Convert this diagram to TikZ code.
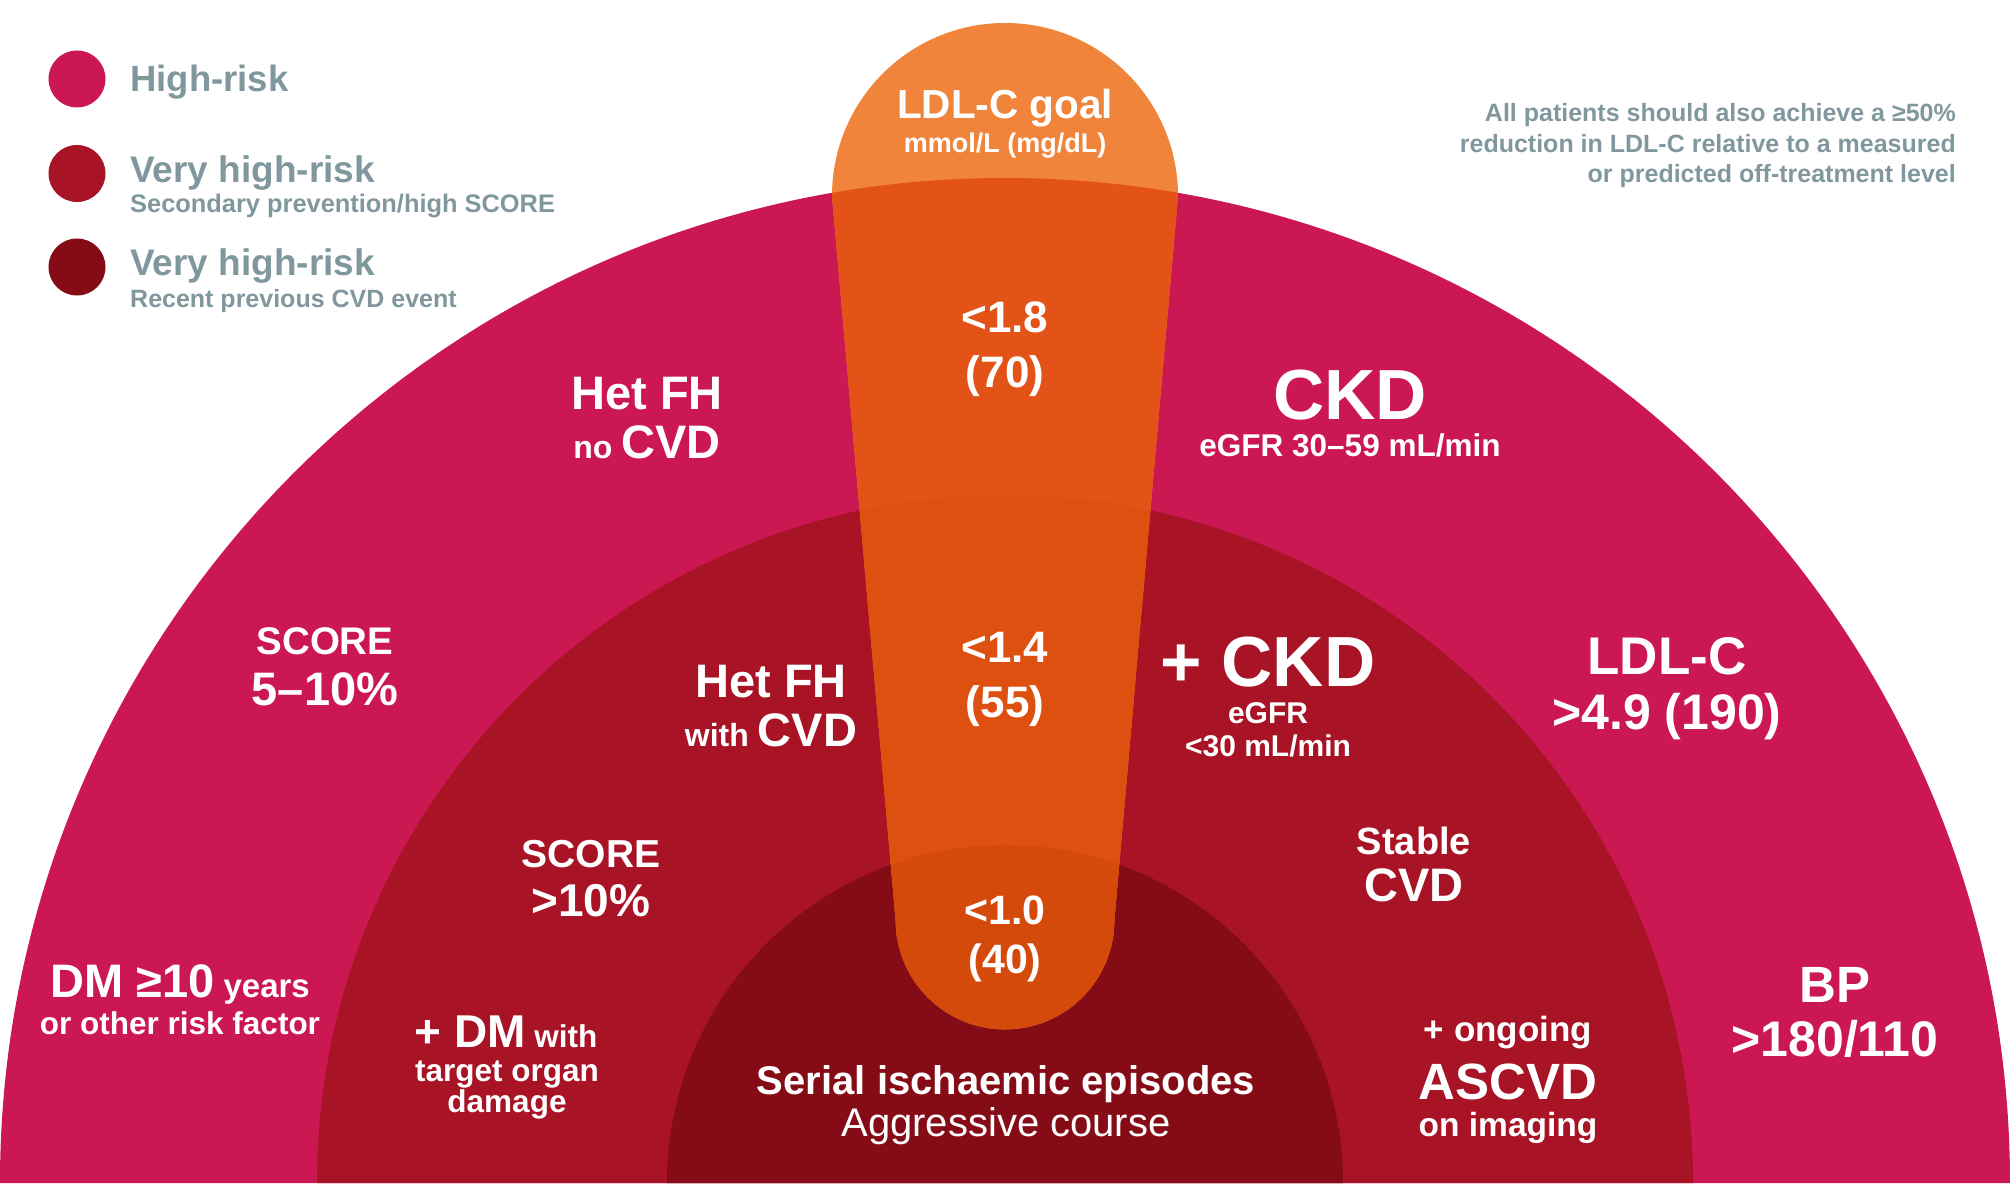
\documentclass[tikz,border=0pt]{standalone}
\usepackage{fontspec}
\setmainfont{Liberation Sans}
\usepackage{tikz}

\definecolor{highrisk}{HTML}{CC1852}
\definecolor{vhighrisk}{HTML}{A81326}
\definecolor{recentrisk}{HTML}{850C16}
\definecolor{goalcap}{HTML}{F0843A}
\definecolor{goalhigh}{HTML}{E35217}
\definecolor{goalvhigh}{HTML}{DD5010}
\definecolor{goalrecent}{HTML}{D44A0B}
\definecolor{notegray}{HTML}{80979D}

\newcommand{\fs}[1]{\fontsize{#1}{#1}\selectfont}
\newcommand{\goalpath}{(832,987) arc[start angle=180,end angle=0,radius=173] -- (1114.3,263) arc[start angle=0,end angle=-180,radius=109.3] -- cycle}

\tikzset{
  lbl/.style={text=white,inner sep=0pt,anchor=base,font=\bfseries\fs{#1}},
  leg/.style={text=notegray,inner sep=0pt,anchor=base west,font=\bfseries\fs{#1}},
  note/.style={text=notegray,inner sep=0pt,anchor=base east,font=\bfseries\fs{25}},
  dot/.style={fill=#1,draw=none}
}

\begin{document}
\begin{tikzpicture}[x=1pt,y=1pt]
\useasboundingbox (0,0) rectangle (2010,1183);
\clip (0,0) rectangle (2010,1183);
% risk rings
\fill[highrisk] (0,0) arc[start angle=180,end angle=0,radius=1005] -- cycle;
\fill[vhighrisk] (317,0) arc[start angle=180,end angle=0,radius=688] -- cycle;
\fill[recentrisk] (667,0) arc[start angle=180,end angle=0,radius=338] -- cycle;
% LDL-C goal column
\fill[goalcap] \goalpath;
\begin{scope}
\clip (0,0) arc[start angle=180,end angle=0,radius=1005] -- cycle;
\fill[goalhigh] \goalpath;
\end{scope}
\begin{scope}
\clip (317,0) arc[start angle=180,end angle=0,radius=688] -- cycle;
\fill[goalvhigh] \goalpath;
\end{scope}
\begin{scope}
\clip (667,0) arc[start angle=180,end angle=0,radius=338] -- cycle;
\fill[goalrecent] \goalpath;
\end{scope}
% legend
\fill[dot=highrisk] (77,1104) circle[radius=28.5];
\fill[dot=vhighrisk] (77,1009.5) circle[radius=28.5];
\fill[dot=recentrisk] (77,916) circle[radius=28.5];
\node[leg=36.5] (leghigh) at (130,1091) {High-risk};
\node[leg=37] (legvhigh) at (130,1000) {Very high-risk};
\node[leg=25.4] (legvhighsub) at (130,970) {Secondary prevention/high SCORE};
\node[leg=37] (legrecent) at (130,907) {Very high-risk};
\node[leg=25] (legrecentsub) at (130,875) {Recent previous CVD event};
% note
\node[note] (note1) at (1956,1061) {All patients should also achieve a ≥50\%};
\node[note] (note2) at (1956,1030) {reduction in LDL-C relative to a measured};
\node[note] (note3) at (1956,1000) {or predicted off-treatment level};
% goals
\node[lbl=40.5] (goal) at (1005,1064) {LDL-C goal};
\node[lbl=27] (goalunit) at (1005,1030) {mmol/L (mg/dL)};
\node[lbl=44] (goalhighA) at (1005,850) {<1.8};
\node[lbl=44] (goalhighB) at (1005,795) {(70)};
\node[lbl=44] (goalvhighA) at (1005,520) {<1.4};
\node[lbl=44] (goalvhighB) at (1005,465) {(55)};
\node[lbl=41] (goalrecentA) at (1005,258) {<1.0};
\node[lbl=41] (goalrecentB) at (1005,209) {(40)};
% high-risk ring
\node[lbl=47] (hetfh) at (647,773) {Het FH};
\node[lbl=47] (hetfhno) at (647,724) {{\fs{32}no }CVD};
\node[lbl=71] (ckd) at (1350,763) {CKD};
\node[lbl=31.5] (ckdegfr) at (1350,726) {eGFR 30–59 mL/min};
\node[lbl=38.5] (score) at (325,528) {SCORE};
\node[lbl=47] (scoreval) at (325,477) {5–10\%};
\node[lbl=53] (ldlc) at (1667,508) {LDL-C};
\node[lbl=50] (ldlcval) at (1667,453) {>4.9 (190)};
\node[lbl=47] (dm) at (180,185) {DM ≥10{\fs{33} years}};
\node[lbl=31.5] (dmsub) at (180,148) {or other risk factor};
\node[lbl=51] (bp) at (1835,180) {BP};
\node[lbl=50] (bpval) at (1835,126) {>180/110};
% very high-risk ring
\node[lbl=47] (hetfhcvd) at (771,485) {Het FH};
\node[lbl=47] (hetfhwith) at (771,436) {{\fs{32}with }CVD};
\node[lbl=71] (ckdplus) at (1268,496) {+ CKD};
\node[lbl=30] (ckdplusA) at (1268,459) {eGFR};
\node[lbl=30] (ckdplusB) at (1268,426) {<30 mL/min};
\node[lbl=39] (scorehi) at (591,315) {SCORE};
\node[lbl=46] (scorehival) at (591,266) {>10\%};
\node[lbl=38] (stable) at (1414,328) {Stable};
\node[lbl=47] (stablecvd) at (1414,281) {CVD};
\node[lbl=46] (dmplus) at (506,135) {+ DM{\fs{31.5} with}};
\node[lbl=31.5] (dmplusA) at (507,101) {target organ};
\node[lbl=31.5] (dmplusB) at (507,70) {damage};
\node[lbl=35] (ascvdA) at (1508,141) {+ ongoing};
\node[lbl=51] (ascvd) at (1508,83) {ASCVD};
\node[lbl=33.5] (ascvdB) at (1508,46) {on imaging};
% recent event ring
\node[lbl=40] (serial) at (1006,88) {Serial ischaemic episodes};
\node[lbl=40,font=\mdseries\fs{40}] (aggressive) at (1006,46) {Aggressive course};
\end{tikzpicture}
\end{document}
